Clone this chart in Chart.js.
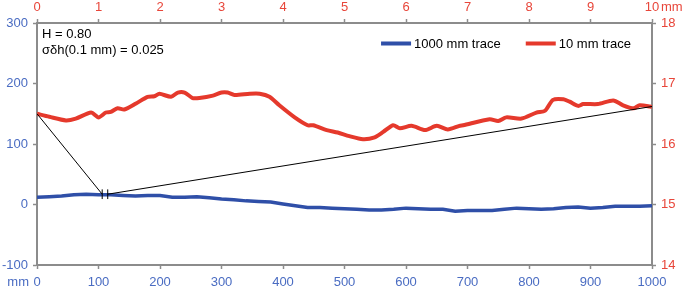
<!DOCTYPE html>
<html>
<head>
<meta charset="utf-8">
<script src="https://cdn.jsdelivr.net/npm/chart.js@4.4.1/dist/chart.umd.min.js"></script>
<style>
  html, body { margin: 0; padding: 0; background: #fff; }
  #wrap { width: 685px; height: 290px; }
</style>
</head>
<body>
<div id="wrap"><canvas id="traceChart" width="685" height="290"></canvas></div>
<script>
// 1000 mm trace (bottom / left axes)
var blueMm = [0, 20, 40, 60, 80, 100, 120, 140, 160, 180, 200, 220, 240, 260, 280, 300, 320, 340, 360, 380,
  400, 420, 440, 460, 480, 500, 520, 540, 560, 580, 600, 620, 640, 660, 680, 700, 720, 740, 760, 780,
  800, 820, 840, 860, 880, 900, 920, 940, 960, 980, 1000];
var blueH = [12, 13, 14, 16, 17, 16, 16, 15, 14, 15, 15, 12, 12, 13, 11, 9, 8, 6, 5, 4,
  1, -2, -5, -5, -6, -7, -8, -9, -9, -8, -6, -7, -8, -8, -11, -10, -10, -10, -8, -6,
  -7, -8, -7, -5, -4, -6, -5, -3, -3, -3, -2];

// 10 mm trace (top / right axes)
var redMm = [0, 0.2, 0.47, 0.63, 0.88, 1.0, 1.12, 1.2, 1.31, 1.42, 1.61, 1.8, 1.91, 1.99, 2.18, 2.29, 2.4, 2.53, 2.64, 2.86,
  3.0, 3.1, 3.21, 3.46, 3.62, 3.78, 3.94, 4.19, 4.4, 4.49, 4.71, 4.89, 5.08, 5.3, 5.49, 5.63, 5.79, 5.9, 6.09, 6.31,
  6.5, 6.68, 6.87, 6.93, 7.36, 7.5, 7.63, 7.88, 8.12, 8.26, 8.39, 8.56, 8.66, 8.8, 8.88, 9.12, 9.37, 9.53, 9.7, 9.8, 9.97, 10];
var redH = [16.5, 16.45, 16.39, 16.42, 16.52, 16.44, 16.52, 16.53, 16.59, 16.57, 16.67, 16.78, 16.79, 16.83, 16.78, 16.85, 16.85, 16.76, 16.76, 16.8,
  16.85, 16.85, 16.81, 16.83, 16.83, 16.78, 16.64, 16.44, 16.31, 16.31, 16.23, 16.19, 16.13, 16.08, 16.11, 16.2, 16.31, 16.26, 16.3, 16.23,
  16.3, 16.24, 16.3, 16.31, 16.41, 16.38, 16.44, 16.42, 16.52, 16.55, 16.73, 16.74, 16.7, 16.63, 16.66, 16.66, 16.72, 16.64, 16.59, 16.64, 16.62, 16.61];

// zoom connector lines and the two break marks (bottom / left axes)
var zoomLeftX = [0, 106];
var zoomLeftY = [150, 17];
var zoomRightX = [115, 1000];
var zoomRightY = [17, 162];
var markX = [106, 115];
var markY = [9, 25];

var annotation = ["H = 0.80", "\u03c3\u03b4h(0.1 mm) = 0.025"];

var BLUE = "#2f4fa8";
var BLUE_TXT = "#4a6cc2";
var RED = "#e5392c";
var RED_TXT = "#e8463a";
var GREY = "#8c8c8c";
var FONT = "'Liberation Sans', Arial, sans-serif";

function pts(xs, ys) {
  return xs.map(function (x, i) { return { x: x, y: ys[i] }; });
}

var blackDs = function (data) {
  return { label: "", data: data, xAxisID: "x", yAxisID: "y", borderColor: "#000", borderWidth: 1,
    pointRadius: 0, fill: false, order: 0, tension: 0 };
};

var datasets = [
  { label: "1000 mm trace", data: pts(blueMm, blueH), xAxisID: "x", yAxisID: "y",
    borderColor: BLUE, backgroundColor: BLUE, borderWidth: 3.5, pointRadius: 0, tension: 0, order: 2 },
  { label: "10 mm trace", data: pts(redMm, redH), xAxisID: "x2", yAxisID: "y2",
    borderColor: RED, backgroundColor: RED, borderWidth: 4, pointRadius: 0, tension: 0.25,
    borderJoinStyle: "round", order: 1 },
  blackDs(pts(zoomLeftX, zoomLeftY)),
  blackDs(pts(zoomRightX, zoomRightY)),
  blackDs(pts([markX[0], markX[0]], markY)),
  blackDs(pts([markX[1], markX[1]], markY))
];

function axis(pos, min, max, step, color, size, pad) {
  return {
    type: "linear", position: pos, min: min, max: max,
    afterFit: function (s) { if (s.isHorizontal()) s.height = size; else s.width = size; },
    grid: { drawOnChartArea: false, drawTicks: true, tickLength: 4, color: GREY, tickWidth: 1.5 },
    border: { display: true, color: GREY, width: 2 },
    ticks: { stepSize: step, color: color, padding: pad, maxRotation: 0, autoSkip: false,
      font: { family: FONT, size: 13 },
      callback: function (v) { return String(v); } }
  };
}

var textPlugin = {
  id: "extraText",
  afterDraw: function (chart) {
    var ctx = chart.ctx;
    var area = chart.chartArea;
    ctx.save();
    ctx.font = "13px " + FONT;
    ctx.textBaseline = "alphabetic";
    ctx.fillStyle = "#000";
    ctx.textAlign = "left";
    ctx.fillText(annotation[0], area.left + 5, 37.5);
    ctx.fillText(annotation[1], area.left + 5, 54);

    // legend
    var items = chart.data.datasets.filter(function (d) { return d.label; });
    var gap = 3, spacing = 25, box = 30;
    var total = 0;
    items.forEach(function (d, i) {
      total += box + gap + ctx.measureText(d.label).width + (i ? spacing : 0);
    });
    var x = 631 - total, y = 43.5;
    items.forEach(function (d) {
      ctx.fillStyle = d.borderColor;
      ctx.fillRect(x, y - 2, box, 4);
      ctx.fillStyle = "#000";
      ctx.textBaseline = "middle";
      ctx.fillText(d.label, x + box + gap, y + 1);
      x += box + gap + ctx.measureText(d.label).width + spacing;
    });

    // unit labels
    var xs = chart.scales.x, x2 = chart.scales.x2;
    ctx.textBaseline = "middle";
    ctx.fillStyle = BLUE_TXT;
    ctx.textAlign = "right";
    ctx.fillText("mm", xs.getPixelForValue(0) - 8, 282);
    ctx.fillStyle = RED_TXT;
    ctx.textAlign = "left";
    ctx.fillText("mm", x2.getPixelForValue(10) + 9, 7.5);
    ctx.restore();
  }
};

var ctx = document.getElementById("traceChart").getContext("2d");
var traceChart = new Chart(ctx, {
  type: "line",
  data: { datasets: datasets },
  options: {
    responsive: false,
    animation: false,
    layout: { padding: 0 },
    plugins: { legend: { display: false }, tooltip: { enabled: false } },
    scales: {
      x: axis("bottom", 0, 1000, 100, BLUE_TXT, 25, 6),
      x2: axis("top", 0, 10, 1, RED_TXT, 23, 4),
      y: axis("left", -100, 300, 100, BLUE_TXT, 37, 5),
      y2: axis("right", 14, 18, 1, RED_TXT, 33, 5)
    }
  },
  plugins: [textPlugin]
});
</script>
</body>
</html>
